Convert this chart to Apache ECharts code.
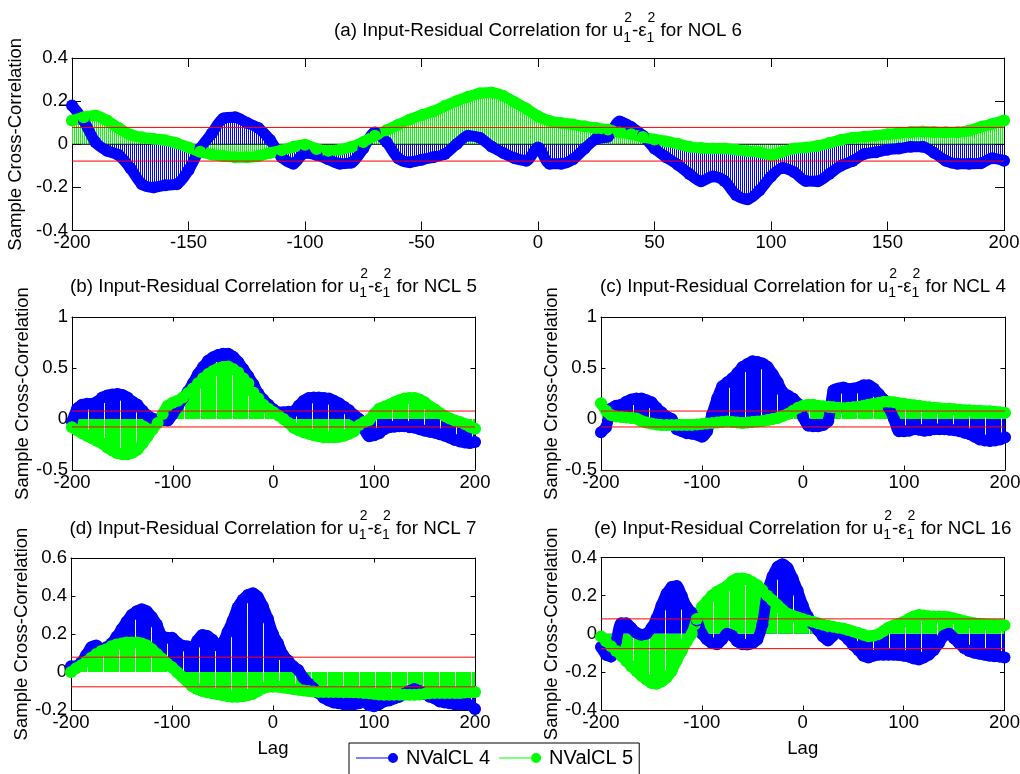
<!DOCTYPE html>
<html>
<head>
<meta charset="utf-8">
<title>Input-Residual Correlation</title>
<script src="https://cdn.jsdelivr.net/npm/echarts@6/dist/echarts.min.js"></script>
<style>
  html, body { margin: 0; padding: 0; background: #fff; }
  #chart { width: 1020px; height: 774px; }
</style>
</head>
<body>
<div id="chart"></div>
<script>
// Lags -200 .. 200, sampled every 5 lags
const lags = [];
for (let l = -200; l <= 200; l += 5) lags.push(l);

// 95% confidence bound of the sample cross-correlation
const confBound = 0.078;

// (a) NOL 6
const nol6_nvalcl4 = [
  0.18, 0.11, 0.01, -0.03, -0.05, -0.11, -0.185, -0.2, -0.19, -0.185,
  -0.12, -0.02, 0.05, 0.12, 0.125, 0.1, 0.075, 0.02, -0.06, -0.09,
  -0.04, -0.05, -0.07, -0.09, -0.085, -0.02, 0.055, 0.01, -0.065, -0.083,
  -0.072, -0.06, -0.045, 0.0, 0.04, 0.03, -0.01, -0.04, -0.065, -0.076,
  -0.015, -0.09, -0.09, -0.07, -0.02, 0.025, 0.035, 0.105, 0.08, 0.04,
  -0.02, -0.06, -0.095, -0.138, -0.172, -0.15, -0.17, -0.235, -0.255, -0.215,
  -0.15, -0.11, -0.13, -0.17, -0.172, -0.138, -0.1, -0.078, -0.045, -0.037,
  -0.025, -0.02, -0.012, -0.012, -0.04, -0.076, -0.09, -0.09, -0.088, -0.065,
  -0.076
];
const nol6_nvalcl5 = [
  0.11, 0.125, 0.133, 0.11, 0.075, 0.045, 0.032, 0.025, 0.018, 0.005,
  -0.015, -0.035, -0.048, -0.055, -0.06, -0.06, -0.055, -0.04, -0.028, -0.012,
  -0.002, -0.022, -0.03, -0.025, -0.012, 0.01, 0.04, 0.065, 0.09, 0.115,
  0.135, 0.152, 0.177, 0.2, 0.22, 0.236, 0.24, 0.225, 0.195, 0.165,
  0.13, 0.108, 0.098, 0.092, 0.083, 0.075, 0.068, 0.055, 0.046, 0.034,
  0.022, 0.013, 0.002, -0.012, -0.017, -0.02, -0.02, -0.026, -0.032, -0.037,
  -0.05, -0.035, -0.02, -0.015, -0.008, 0.006, 0.02, 0.03, 0.035, 0.04,
  0.046, 0.052, 0.057, 0.059, 0.057, 0.056, 0.056, 0.063, 0.08, 0.094,
  0.11
];

// (b) NCL 5
const ncl5_nvalcl4 = [
  -0.03, 0.1, 0.14, 0.15, 0.15, 0.17, 0.21, 0.23, 0.24, 0.245,
  0.235, 0.21, 0.17, 0.14, 0.08, 0.035, 0.005, -0.005, -0.01, -0.015,
  0.05, 0.12, 0.2, 0.27, 0.35, 0.44, 0.51, 0.57, 0.605, 0.628,
  0.64, 0.64, 0.61, 0.56, 0.49, 0.42, 0.34, 0.25, 0.19, 0.14,
  0.095, 0.065, 0.065, 0.07, 0.075, 0.13, 0.18, 0.205, 0.21, 0.21,
  0.205, 0.2, 0.18, 0.155, 0.12, 0.085, 0.04, 0.0, -0.1, -0.17,
  -0.16, -0.14, -0.1, -0.08, -0.075, -0.07, -0.07, -0.08, -0.085, -0.1,
  -0.115, -0.125, -0.135, -0.15, -0.165, -0.185, -0.205, -0.22, -0.23, -0.235,
  -0.225
];
const ncl5_nvalcl5 = [
  -0.08, -0.11, -0.14, -0.165, -0.19, -0.215, -0.24, -0.28, -0.31, -0.335,
  -0.345, -0.345, -0.33, -0.3, -0.24, -0.17, -0.1, -0.04, 0.05, 0.13,
  0.16, 0.18, 0.21, 0.255, 0.3, 0.35, 0.4, 0.44, 0.47, 0.495,
  0.51, 0.515, 0.49, 0.455, 0.4, 0.35, 0.26, 0.2, 0.14, 0.1,
  0.066, 0.035, 0.0, -0.04, -0.085, -0.11, -0.13, -0.145, -0.16, -0.17,
  -0.18, -0.18, -0.18, -0.175, -0.165, -0.145, -0.12, -0.06, -0.03, -0.01,
  0.05, 0.1, 0.12, 0.14, 0.165, 0.185, 0.2, 0.205, 0.205, 0.19,
  0.165, 0.125, 0.095, 0.06, 0.03, 0.005, -0.015, -0.03, -0.05, -0.075,
  -0.095
];

// (c) NCL 4
const ncl4_nvalcl4 = [
  -0.13, -0.08, 0.1, 0.13, 0.14, 0.17, 0.19, 0.2, 0.2, 0.185,
  0.165, 0.11, 0.065, 0.025, 0.0, -0.1, -0.12, -0.14, -0.145, -0.155,
  -0.175, -0.12, 0.05, 0.2, 0.32, 0.36, 0.4, 0.45, 0.51, 0.54,
  0.565, 0.56, 0.545, 0.51, 0.44, 0.36, 0.265, 0.23, 0.2, 0.15,
  0.02, -0.065, -0.07, -0.07, -0.06, -0.02, 0.28, 0.3, 0.31, 0.295,
  0.3, 0.31, 0.33, 0.33, 0.3, 0.245, 0.19, 0.11, 0.0, -0.12,
  -0.12, -0.115, -0.1, -0.105, -0.115, -0.11, -0.1, -0.1, -0.1, -0.105,
  -0.11, -0.12, -0.135, -0.15, -0.175, -0.2, -0.21, -0.215, -0.21, -0.2,
  -0.18
];
const ncl4_nvalcl5 = [
  0.155, 0.08, 0.04, 0.025, 0.02, 0.015, 0.01, 0.005, -0.02, -0.035,
  -0.045, -0.055, -0.06, -0.06, -0.06, -0.06, -0.06, -0.06, -0.06, -0.055,
  -0.05, -0.045, -0.04, -0.035, -0.03, -0.025, -0.03, -0.035, -0.04, -0.035,
  -0.03, -0.025, -0.02, -0.01, 0.0, 0.01, 0.03, 0.05, 0.08, 0.11,
  0.13, 0.14, 0.14, 0.13, 0.125, 0.12, 0.115, 0.11, 0.105, 0.11,
  0.115, 0.12, 0.13, 0.14, 0.15, 0.16, 0.17, 0.17, 0.165, 0.155,
  0.15, 0.14, 0.135, 0.13, 0.12, 0.115, 0.11, 0.105, 0.1, 0.1,
  0.095, 0.09, 0.085, 0.085, 0.08, 0.08, 0.075, 0.075, 0.07, 0.065,
  0.06
];

// (d) NCL 7
const ncl7_nvalcl4 = [
  0.03, 0.03, 0.05, 0.09, 0.13, 0.14, 0.12, 0.13, 0.15, 0.185,
  0.225, 0.265, 0.3, 0.32, 0.33, 0.32, 0.29, 0.25, 0.19, 0.18,
  0.18, 0.155, 0.14, 0.135, 0.13, 0.165, 0.195, 0.19, 0.17, 0.14,
  0.155, 0.21, 0.27, 0.34, 0.38, 0.405, 0.415, 0.395, 0.345, 0.28,
  0.2, 0.15, 0.09, 0.06, 0.03, 0.01, -0.03, -0.06, -0.085, -0.11,
  -0.135, -0.15, -0.16, -0.165, -0.17, -0.17, -0.17, -0.165, -0.155, -0.175,
  -0.18, -0.17, -0.155, -0.15, -0.14, -0.13, -0.115, -0.1, -0.09, -0.1,
  -0.115, -0.13, -0.14, -0.155, -0.16, -0.165, -0.17, -0.17, -0.17, -0.175,
  -0.195
];
const ncl7_nvalcl5 = [
  0.0, 0.02, 0.035, 0.055, 0.075, 0.095, 0.11, 0.12, 0.135, 0.145,
  0.15, 0.155, 0.155, 0.155, 0.15, 0.14, 0.12, 0.095, 0.07, 0.045,
  0.025, 0.0, -0.025, -0.05, -0.075, -0.09, -0.1, -0.107, -0.112, -0.117,
  -0.122, -0.127, -0.13, -0.13, -0.128, -0.122, -0.115, -0.1, -0.085, -0.078,
  -0.077, -0.078, -0.082, -0.086, -0.09, -0.094, -0.097, -0.1, -0.103, -0.105,
  -0.105, -0.105, -0.105, -0.105, -0.105, -0.105, -0.107, -0.108, -0.11, -0.112,
  -0.115, -0.118, -0.12, -0.12, -0.12, -0.12, -0.12, -0.12, -0.12, -0.118,
  -0.115, -0.112, -0.11, -0.11, -0.11, -0.11, -0.11, -0.11, -0.108, -0.106,
  -0.105
];

// (e) NCL 16
const ncl16_nvalcl4 = [
  -0.07, -0.11, -0.12, -0.04, 0.055, 0.055, 0.03, 0.005, -0.005, 0.0,
  0.03, 0.08, 0.15, 0.21, 0.245, 0.25, 0.2, 0.14, 0.11, 0.07,
  0.0, -0.03, -0.05, -0.055, -0.03, 0.0, -0.01, -0.04, -0.055, -0.057,
  -0.05, -0.03, 0.05, 0.22, 0.3, 0.35, 0.365, 0.345, 0.29, 0.225,
  0.15, 0.09, 0.05, 0.02, -0.015, -0.035, -0.01, 0.02, -0.005, -0.03,
  -0.06, -0.085, -0.115, -0.125, -0.115, -0.11, -0.11, -0.11, -0.11, -0.112,
  -0.115, -0.12, -0.13, -0.135, -0.125, -0.11, -0.085, -0.05, -0.01, 0.0,
  -0.025, -0.05, -0.075, -0.09, -0.1, -0.105, -0.11, -0.115, -0.118, -0.12,
  -0.125
];
const ncl16_nvalcl5 = [
  -0.015, -0.04, -0.065, -0.09, -0.115, -0.143, -0.17, -0.196, -0.22, -0.24,
  -0.258, -0.262, -0.25, -0.23, -0.195, -0.14, -0.09, -0.04, 0.0, 0.077,
  0.14, 0.17, 0.2, 0.22, 0.235, 0.25, 0.275, 0.288, 0.29, 0.284,
  0.27, 0.255, 0.228, 0.2, 0.175, 0.15, 0.125, 0.105, 0.095, 0.085,
  0.077, 0.07, 0.063, 0.055, 0.047, 0.042, 0.037, 0.032, 0.028, 0.02,
  0.012, 0.004, -0.005, -0.013, -0.01, -0.002, 0.015, 0.032, 0.043, 0.052,
  0.062, 0.078, 0.09, 0.098, 0.096, 0.092, 0.09, 0.09, 0.089, 0.087,
  0.08, 0.073, 0.066, 0.06, 0.055, 0.052, 0.05, 0.049, 0.047, 0.046,
  0.045
];

const seriesNames = ['NValCL 4', 'NValCL 5'];
const titleHeads = ['(a) Input-Residual Correlation for u', '(b) Input-Residual Correlation for u',
  '(c) Input-Residual Correlation for u', '(d) Input-Residual Correlation for u',
  '(e) Input-Residual Correlation for u'];
const titleTails = [' for NOL 6', ' for NCL 5', ' for NCL 4', ' for NCL 7', ' for NCL 16'];
const yAxisTitle = 'Sample Cross-Correlation';
const xAxisTitle = 'Lag';

const FAMILY = "'Liberation Sans', Arial, Helvetica, sans-serif";
const BLUE = 'rgb(0,0,255)';
const GREEN = 'rgb(0,255,0)';

// Panel geometry and axis ranges
const panels = [
  { box: { left: 72, top: 58, width: 932, height: 172.5 }, y: [-0.4, 0.4, 0.2], xStep: 50, tick: 9,
    data: [nol6_nvalcl4, nol6_nvalcl5], hatch: true, titleY: 31, xName: '' },
  { box: { left: 72, top: 317, width: 403, height: 153 }, y: [-0.5, 1, 0.5], xStep: 100, tick: 4.5,
    data: [ncl5_nvalcl4, ncl5_nvalcl5], hatch: false, titleY: 286.5, xName: '' },
  { box: { left: 601, top: 317, width: 404, height: 153 }, y: [-0.5, 1, 0.5], xStep: 100, tick: 4.5,
    data: [ncl4_nvalcl4, ncl4_nvalcl5], hatch: false, titleY: 286.5, xName: '' },
  { box: { left: 71, top: 558, width: 404, height: 152 }, y: [-0.2, 0.6, 0.2], xStep: 100, tick: 4.5,
    data: [ncl7_nvalcl4, ncl7_nvalcl5], hatch: false, titleY: 528.5, xName: xAxisTitle },
  { box: { left: 601, top: 557.5, width: 403.5, height: 152.5 }, y: [-0.4, 0.4, 0.2], xStep: 100, tick: 4.5,
    data: [ncl16_nvalcl4, ncl16_nvalcl5], hatch: false, titleY: 528.5, xName: xAxisTitle }
];

// Fill patterns standing in for the dense stem lines
function hatchPattern(color) {
  const c = document.createElement('canvas');
  c.width = 2; c.height = 4;
  const g = c.getContext('2d');
  g.fillStyle = color;
  g.fillRect(0, 0, 1, 4);
  return { image: c, repeat: 'repeat' };
}
function solidStemPattern(color, offsetX) {
  const c = document.createElement('canvas');
  c.width = 16; c.height = 4;
  const g = c.getContext('2d');
  g.fillStyle = color;
  g.fillRect(0, 0, 16, 4);
  g.fillStyle = '#f2f4f2';
  g.fillRect(0, 0, 1, 4);
  return { image: c, repeat: 'repeat', x: offsetX, y: 0 };
}

const measureCtx = document.createElement('canvas').getContext('2d');
function textWidth(t, size) {
  measureCtx.font = size + 'px ' + FAMILY;
  return measureCtx.measureText(t).width;
}

const TITLE_SIZE = 18.8;
const SCRIPT_SIZE = 14;
function textEl(t, x, y, size) {
  return {
    type: 'text', x: x, y: y, silent: true,
    style: { text: t, fontSize: size, fontFamily: FAMILY, fill: '#000',
      textAlign: 'left', textVerticalAlign: 'middle', align: 'left', verticalAlign: 'middle' }
  };
}
// Title with stacked sub/superscripts: head u_1^2 - ε_1^2 tail
function titleElements(cx, midY, head, tail) {
  const wHead = textWidth(head, TITLE_SIZE);
  const wEps = textWidth('-ε', TITLE_SIZE);
  const wTail = textWidth(tail, TITLE_SIZE);
  const wScr = Math.max(textWidth('1', SCRIPT_SIZE), textWidth('2', SCRIPT_SIZE)) + 1;
  const total = wHead + wScr + wEps + wScr + wTail;
  let x = cx - total / 2;
  const els = [];
  els.push(textEl(head, x, midY, TITLE_SIZE)); x += wHead;
  els.push(textEl('1', x, midY + 7, SCRIPT_SIZE));
  els.push(textEl('2', x + 1, midY - 12.8, SCRIPT_SIZE)); x += wScr;
  els.push(textEl('-ε', x, midY, TITLE_SIZE)); x += wEps;
  els.push(textEl('1', x, midY + 7, SCRIPT_SIZE));
  els.push(textEl('2', x + 1, midY - 12.8, SCRIPT_SIZE)); x += wScr;
  els.push(textEl(tail, x, midY, TITLE_SIZE));
  return els;
}

const fmt = v => String(Math.round(v * 1000) / 1000);

const grids = [], xAxes = [], yAxes = [], series = [], graphics = [];
panels.forEach((p, i) => {
  grids.push(Object.assign({ containLabel: false, outerBoundsMode: 'none' }, p.box));
  const line = { show: true, onZero: false, lineStyle: { color: '#000', width: 1 } };
  const tick = { show: true, inside: true, length: p.tick, lineStyle: { color: '#000', width: 1 } };
  const common = { gridIndex: i, type: 'value', splitLine: { show: false }, axisLine: line, axisTick: tick };
  xAxes.push(Object.assign({}, common, {
    position: 'bottom', min: -200, max: 200, interval: p.xStep,
    axisLabel: { color: '#000', fontSize: 18.5, fontFamily: FAMILY, margin: 3, formatter: fmt },
    name: p.xName, nameLocation: 'middle', nameGap: 29,
    nameTextStyle: { color: '#000', fontSize: 18.5, fontFamily: FAMILY }
  }));
  xAxes.push(Object.assign({}, common, {
    position: 'top', min: -200, max: 200, interval: p.xStep, axisLabel: { show: false }
  }));
  yAxes.push(Object.assign({}, common, {
    position: 'left', min: p.y[0], max: p.y[1], interval: p.y[2],
    axisLabel: { color: '#000', fontSize: 18.5, fontFamily: FAMILY, margin: 4, formatter: fmt },
    name: yAxisTitle, nameLocation: 'middle', nameGap: 40,
    nameTextStyle: { color: '#000', fontSize: 18.5, fontFamily: FAMILY }
  }));
  yAxes.push(Object.assign({}, common, {
    position: 'right', min: p.y[0], max: p.y[1], interval: p.y[2], axisLabel: { show: false }
  }));

  const xi = 2 * i, yi = 2 * i;
  // stem baseline, visible between the sparse stems of the wide panel
  if (p.hatch) {
    series.push({
      type: 'line', name: 'baseline', xAxisIndex: xi, yAxisIndex: yi, silent: true,
      data: [[-200, 0], [200, 0]], symbol: 'none', lineStyle: { color: '#000', width: 1 },
      emphasis: { disabled: true }, z: 2
    });
  }
  // stems + markers for both validation runs
  [BLUE, GREEN].forEach((color, k) => {
    const fill = p.hatch ? hatchPattern(color) : solidStemPattern(color, p.box.left);
    series.push({
      type: 'line', name: seriesNames[k], xAxisIndex: xi, yAxisIndex: yi, silent: true,
      data: lags.map((l, j) => [l, p.data[k][j]]),
      smooth: 0.3, clip: false,
      symbol: 'circle', symbolSize: 12, showSymbol: true, showAllSymbol: true,
      itemStyle: { color: color },
      lineStyle: { color: color, width: 11, cap: 'round', join: 'round' },
      areaStyle: { origin: 0, color: fill, opacity: 1 },
      emphasis: { disabled: true }, z: 2
    });
  });
  // confidence bounds
  [confBound, -confBound].forEach(b => {
    series.push({
      type: 'line', name: 'bound', xAxisIndex: xi, yAxisIndex: yi, silent: true,
      data: [[-200, b], [200, b]], symbol: 'none',
      lineStyle: { color: 'rgb(255,0,0)', width: 1 }, emphasis: { disabled: true }, z: 3
    });
  });

  graphics.push(...titleElements(p.box.left + p.box.width / 2, p.titleY, titleHeads[i], titleTails[i]));
});

// legend icon: line with a filled circle at its right end
const legendIcon = 'path://M0 4.5H32V5.5H0Z M32 5A5 5 0 1 1 42 5A5 5 0 1 1 32 5Z';

const chart = echarts.init(document.getElementById('chart'), null, { renderer: 'canvas' });
chart.setOption({
  animation: false,
  backgroundColor: '#fff',
  textStyle: { fontFamily: FAMILY },
  grid: grids,
  xAxis: xAxes,
  yAxis: yAxes,
  series: series,
  graphic: { elements: graphics },
  legend: {
    data: seriesNames.map(n => ({ name: n, icon: legendIcon })),
    left: 349, top: 743, orient: 'horizontal',
    itemWidth: 42, itemHeight: 10, itemGap: 9,
    padding: [5, 6, 20, 7],
    borderColor: '#000', borderWidth: 1, backgroundColor: '#fff',
    selectedMode: false,
    textStyle: { color: '#000', fontSize: 20, fontFamily: FAMILY, padding: [0, 0, 0, 3] }
  }
});
</script>
</body>
</html>
